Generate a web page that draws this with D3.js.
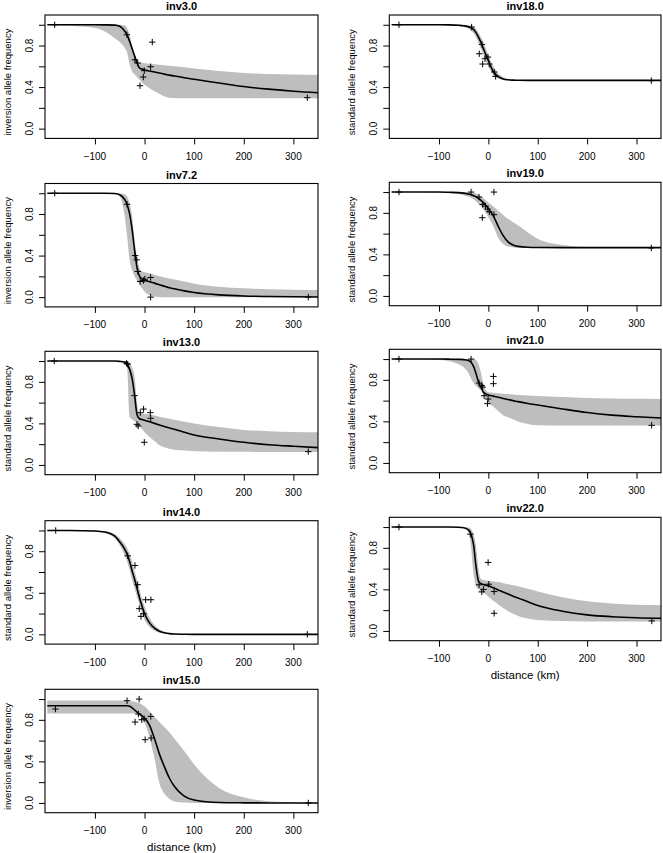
<!DOCTYPE html>
<html><head><meta charset="utf-8">
<script src="https://cdn.jsdelivr.net/npm/d3@7"></script>
<style>body{margin:0;background:#fff;} svg{display:block;font-family:"Liberation Sans",Arial,Helvetica,sans-serif;}</style>
</head><body><svg id="c" width="663" height="853"></svg>
<script>
// ---------- data ----------
const titles = ["inv3.0","inv7.2","inv13.0","inv14.0","inv15.0","inv18.0","inv19.0","inv21.0","inv22.0"];
const yLabels = ["inversion allele frequency","inversion allele frequency","standard allele frequency","standard allele frequency","inversion allele frequency","standard allele frequency","standard allele frequency","standard allele frequency","standard allele frequency"];
const xTicks = [-100, 0, 100, 200, 300];
const yTicks = [0, 0.2, 0.4, 0.6, 0.8, 1.0];
const yTickLabels = ["0.0", "", "0.4", "", "0.8", ""];
const xLabel = "distance (km)";

// common x positions at which the fitted cline and its band were read
const gridX = [-196,-150,-100,-80,-60,-50,-40,-35,-30,-25,-20,-15,-10,-5,0,10,20,30,40,50,60,80,100,150,200,250,300,350];

// inv3.0
const inv3_px = [-181,-35.5,15.6,-19.3,-13.9,12.3,-0.5,-2.5,-9.2,328];
const inv3_py = [1.0,0.904,0.833,0.663,0.631,0.596,0.558,0.497,0.413,0.298];
const inv3_line = [1,1,1,0.999,0.997,0.985,0.94,0.90,0.84,0.77,0.70,0.63,0.582,0.573,0.565,0.555,0.545,0.535,0.525,0.515,0.507,0.49,0.475,0.44,0.405,0.38,0.36,0.345];
const inv3_hi = [1,1,1,1,1,1,0.995,0.97,0.90,0.80,0.72,0.66,0.64,0.635,0.63,0.625,0.62,0.615,0.61,0.605,0.60,0.59,0.578,0.555,0.535,0.525,0.52,0.516];
const inv3_lo = [1,0.99,0.968,0.935,0.87,0.833,0.776,0.73,0.62,0.55,0.52,0.495,0.47,0.445,0.423,0.39,0.36,0.335,0.31,0.298,0.295,0.293,0.293,0.293,0.293,0.293,0.293,0.293];

// inv7.2
const inv7_px = [-181,-35.2,-19,-15.7,-13.7,-8.9,-2.2,0.5,12.3,12.3,330];
const inv7_py = [1.0,0.894,0.40,0.359,0.247,0.151,0.16,0.173,0.189,0.0,0.0];
const inv7_line = [1,1,1,1,0.998,0.985,0.94,0.89,0.80,0.65,0.45,0.28,0.20,0.175,0.165,0.148,0.135,0.12,0.105,0.09,0.08,0.06,0.045,0.022,0.011,0.006,0.003,0.002];
const inv7_hi = [1,1,1,1,1,0.998,0.99,0.97,0.90,0.78,0.55,0.38,0.28,0.25,0.24,0.23,0.215,0.20,0.19,0.18,0.17,0.15,0.13,0.10,0.085,0.075,0.07,0.068];
const inv7_lo = [1,1,1,0.998,0.99,0.97,0.78,0.58,0.35,0.26,0.20,0.16,0.12,0.085,0.055,0.02,0.006,0.002,0,0,0,0,0,0,0,0,0,0];

// inv13.0
const inv13_px = [-182,-36.4,-34,-20.1,-15.4,-12.7,-8.6,-1.9,11.7,12.4,-0.5,330];
const inv13_py = [1.0,0.978,0.97,0.667,0.391,0.375,0.503,0.538,0.503,0.449,0.218,0.128];
const inv13_line = [1,1,1,1,1,0.997,0.99,0.97,0.92,0.83,0.67,0.48,0.445,0.437,0.43,0.415,0.40,0.385,0.37,0.355,0.343,0.315,0.288,0.25,0.218,0.195,0.18,0.167];
const inv13_hi = [1,1,1,1,1,1,1,0.995,0.98,0.94,0.85,0.60,0.50,0.495,0.49,0.485,0.475,0.465,0.455,0.445,0.435,0.415,0.40,0.365,0.337,0.325,0.318,0.314];
const inv13_lo = [1,1,1,1,1,1,0.985,0.93,0.46,0.44,0.42,0.40,0.37,0.345,0.315,0.27,0.23,0.19,0.17,0.155,0.147,0.138,0.132,0.128,0.126,0.125,0.125,0.125];

// inv14.0
const inv14_px = [-179,-34,-19.3,-13.9,-10.6,-7.2,-2,2.2,12.9,328];
const inv14_py = [1.0,0.756,0.663,0.478,0.247,0.173,0.199,0.333,0.333,0.0];
const inv14_line = [1,1,0.995,0.985,0.945,0.89,0.82,0.77,0.70,0.61,0.53,0.44,0.35,0.27,0.20,0.11,0.06,0.03,0.015,0.007,0.003,0.001,0,0,0,0,0,0];
const inv14_hi = [1,1,0.997,0.99,0.965,0.925,0.87,0.83,0.77,0.70,0.61,0.52,0.43,0.34,0.27,0.16,0.09,0.05,0.025,0.012,0.006,0.002,0,0,0,0,0,0];
const inv14_lo = [1,0.999,0.99,0.975,0.925,0.86,0.76,0.70,0.62,0.52,0.44,0.36,0.28,0.20,0.14,0.07,0.035,0.015,0.007,0.003,0.001,0,0,0,0,0,0,0];

// inv15.0
const inv15_px = [-179.6,-35.2,-10.9,-12.3,-19,-5.6,-0.8,12.6,1.2,13.3,330];
const inv15_py = [0.904,0.984,1.0,0.856,0.779,0.801,0.81,0.833,0.609,0.625,0.0];
const inv15_line = [0.936,0.936,0.936,0.936,0.936,0.936,0.936,0.935,0.93,0.915,0.895,0.875,0.855,0.837,0.817,0.75,0.62,0.47,0.35,0.24,0.16,0.065,0.028,0.004,0.001,0,0,0];
const inv15_hi = [0.987,0.987,0.987,0.987,0.987,0.987,0.987,0.985,0.98,0.977,0.975,0.968,0.96,0.945,0.93,0.88,0.83,0.78,0.73,0.68,0.62,0.50,0.37,0.145,0.055,0.016,0.005,0.002];
const inv15_lo = [0.86,0.86,0.86,0.86,0.86,0.86,0.86,0.86,0.86,0.86,0.86,0.855,0.85,0.82,0.77,0.63,0.43,0.19,0.09,0.04,0.015,0.003,0,0,0,0,0,0];

// inv18.0
const inv18_px = [-181,-33.9,-13,-18.4,-6.9,-0.8,-11.6,1.9,12,14.7,330];
const inv18_py = [1.0,0.978,0.811,0.721,0.673,0.689,0.622,0.622,0.545,0.503,0.462];
const inv18_line = [1,1,1,0.999,0.995,0.99,0.98,0.97,0.955,0.925,0.88,0.83,0.77,0.71,0.655,0.55,0.50,0.478,0.47,0.467,0.466,0.465,0.465,0.465,0.465,0.465,0.465,0.465];
const inv18_hi = [1,1,1,1,1,0.998,0.995,0.99,0.98,0.96,0.925,0.88,0.83,0.77,0.71,0.60,0.53,0.495,0.478,0.47,0.467,0.466,0.466,0.466,0.466,0.466,0.466,0.466];
const inv18_lo = [1,1,0.999,0.997,0.99,0.98,0.96,0.94,0.92,0.88,0.83,0.77,0.71,0.65,0.60,0.515,0.482,0.47,0.466,0.464,0.464,0.464,0.464,0.464,0.464,0.464,0.464,0.464];

// inv19.0
const inv19_px = [-181,-35,11.3,-19,-11.6,-6,-12.3,-1,2,11.3,330];
const inv19_py = [1.0,1.0,1.0,0.952,0.881,0.865,0.753,0.835,0.81,0.782,0.462];
const inv19_line = [1,1,1,0.998,0.995,0.99,0.98,0.975,0.965,0.955,0.94,0.92,0.90,0.87,0.84,0.77,0.67,0.58,0.52,0.49,0.477,0.468,0.466,0.465,0.465,0.465,0.465,0.465];
const inv19_hi = [1,1,1,1,1,1,0.998,0.995,0.99,0.985,0.975,0.96,0.94,0.92,0.90,0.86,0.82,0.78,0.74,0.71,0.68,0.61,0.55,0.49,0.47,0.466,0.466,0.466];
const inv19_lo = [1,1,0.995,0.99,0.98,0.97,0.955,0.945,0.93,0.91,0.89,0.86,0.83,0.80,0.76,0.67,0.56,0.50,0.475,0.467,0.464,0.464,0.464,0.464,0.464,0.464,0.464,0.464];

// inv21.0
const inv21_px = [-181,-35,-18.8,-13.4,-11.5,-8.6,10.3,10.3,-0.5,-1.9,330.6];
const inv21_py = [1.0,1.0,0.769,0.744,0.73,0.647,0.833,0.763,0.615,0.571,0.362];
const inv21_line = [1,1,1,0.999,0.997,0.995,0.985,0.97,0.93,0.86,0.78,0.73,0.68,0.665,0.655,0.643,0.632,0.62,0.61,0.60,0.59,0.573,0.558,0.52,0.485,0.46,0.445,0.433];
const inv21_hi = [1,1,1,1,1,1,1,1,1,0.99,0.95,0.87,0.76,0.70,0.68,0.675,0.67,0.667,0.663,0.66,0.655,0.65,0.645,0.635,0.625,0.62,0.617,0.615];
const inv21_lo = [1,0.998,0.99,0.98,0.95,0.92,0.86,0.81,0.77,0.74,0.72,0.70,0.66,0.62,0.585,0.54,0.50,0.46,0.44,0.42,0.40,0.375,0.362,0.36,0.36,0.36,0.36,0.36];

// inv22.0
const inv22_px = [-181,-36.4,-0.5,-18.8,0.8,-10,-13.4,11.7,11.7,331];
const inv22_py = [1.0,0.932,0.659,0.444,0.45,0.40,0.376,0.379,0.17,0.096];
const inv22_line = [1,1,1,1,0.998,0.993,0.97,0.93,0.83,0.62,0.48,0.455,0.447,0.44,0.434,0.415,0.395,0.375,0.355,0.335,0.318,0.28,0.245,0.19,0.155,0.137,0.127,0.122];
const inv22_hi = [1,1,1,1,1,1,0.995,0.98,0.93,0.82,0.60,0.50,0.49,0.485,0.48,0.475,0.47,0.46,0.45,0.44,0.43,0.405,0.38,0.325,0.285,0.265,0.253,0.248];
const inv22_lo = [1,1,1,1,1,0.99,0.95,0.80,0.55,0.43,0.40,0.385,0.37,0.35,0.33,0.29,0.255,0.22,0.19,0.165,0.145,0.12,0.105,0.095,0.09,0.09,0.09,0.09];

// ---------- layout ----------
const colL = [45, 389.3], colR = [318, 661];
const rowTops = [[15, 183.5, 351.3, 520.7, 689.3], [15, 182.3, 349.3, 517.3]];
const boxH = 123.4;
const xDomain = [-200.6, 349.6];
const yDomain = [-0.094, 1.094];

const panels = [
  {t:0, col:0, row:0, px:inv3_px, py:inv3_py, line:inv3_line, hi:inv3_hi, lo:inv3_lo, xl:false},
  {t:1, col:0, row:1, px:inv7_px, py:inv7_py, line:inv7_line, hi:inv7_hi, lo:inv7_lo, xl:false},
  {t:2, col:0, row:2, px:inv13_px, py:inv13_py, line:inv13_line, hi:inv13_hi, lo:inv13_lo, xl:false},
  {t:3, col:0, row:3, px:inv14_px, py:inv14_py, line:inv14_line, hi:inv14_hi, lo:inv14_lo, xl:false},
  {t:4, col:0, row:4, px:inv15_px, py:inv15_py, line:inv15_line, hi:inv15_hi, lo:inv15_lo, xl:true},
  {t:5, col:1, row:0, px:inv18_px, py:inv18_py, line:inv18_line, hi:inv18_hi, lo:inv18_lo, xl:false},
  {t:6, col:1, row:1, px:inv19_px, py:inv19_py, line:inv19_line, hi:inv19_hi, lo:inv19_lo, xl:false},
  {t:7, col:1, row:2, px:inv21_px, py:inv21_py, line:inv21_line, hi:inv21_hi, lo:inv21_lo, xl:false},
  {t:8, col:1, row:3, px:inv22_px, py:inv22_py, line:inv22_line, hi:inv22_hi, lo:inv22_lo, xl:true}
];

const svg = d3.select("#c");
const defs = svg.append("defs");

panels.forEach((p, i) => {
  const L = colL[p.col], R = colR[p.col];
  const T = rowTops[p.col][p.row], B = T + boxH;
  const x = d3.scaleLinear().domain(xDomain).range([L, R]);
  const y = d3.scaleLinear().domain(yDomain).range([B, T]);
  const g = svg.append("g");

  defs.append("clipPath").attr("id", "clip" + i)
    .append("rect").attr("x", L).attr("y", T).attr("width", R - L).attr("height", B - T);

  const band = gridX.map((gx, k) => ({x: gx, lo: p.lo[k], hi: p.hi[k], v: p.line[k]}));
  const plot = g.append("g").attr("clip-path", `url(#clip${i})`);

  plot.append("path").datum(band)
    .attr("d", d3.area().x(d => x(d.x)).y0(d => y(d.lo)).y1(d => y(d.hi)).curve(d3.curveMonotoneX))
    .attr("fill", "#bebebe").attr("stroke", "none");

  plot.append("path").datum(band)
    .attr("d", d3.line().x(d => x(d.x)).y(d => y(d.v)).curve(d3.curveMonotoneX))
    .attr("fill", "none").attr("stroke", "#000").attr("stroke-width", 1.6);

  const pts = p.px.map((px, k) => [px, p.py[k]]);
  plot.append("g").selectAll("path").data(pts).join("path")
    .attr("d", d => { const cx = x(d[0]), cy = y(d[1]); return `M${cx-3.2},${cy}H${cx+3.2}M${cx},${cy-3.2}V${cy+3.2}`; })
    .attr("stroke", "#000").attr("stroke-width", 1).attr("fill", "none");

  // box
  g.append("rect").attr("x", L).attr("y", T).attr("width", R - L).attr("height", B - T)
    .attr("fill", "none").attr("stroke", "#000").attr("stroke-width", 1.1);

  // x axis
  const xa = g.append("g").attr("transform", `translate(0,${B})`)
    .call(d3.axisBottom(x).tickValues(xTicks).tickSize(6).tickFormat(""));
  xa.select(".domain").remove();
  xa.selectAll("line").attr("stroke", "#000");
  g.selectAll(null).data(xTicks).join("text")
    .attr("x", d => x(d)).attr("y", B + 21.5)
    .attr("text-anchor", "middle").attr("font-size", 10).attr("fill", "#000")
    .text(d => d3.format("d")(d));

  // y axis
  const ya = g.append("g").attr("transform", `translate(${L},0)`)
    .call(d3.axisLeft(y).tickValues(yTicks).tickSize(6).tickFormat(""));
  ya.select(".domain").remove();
  ya.selectAll("line").attr("stroke", "#000");
  g.selectAll(null).data(yTicks.map((v, k) => [v, yTickLabels[k]]).filter(d => d[1] !== "")).join("text")
    .attr("transform", d => `translate(${L - 12.5},${y(d[0])}) rotate(-90)`)
    .attr("text-anchor", "middle").attr("font-size", 10).attr("fill", "#000")
    .text(d => d[1]);

  // y label
  g.append("text")
    .attr("transform", `translate(${L - 34.5},${(T + B) / 2 + 5.5}) rotate(-90)`)
    .attr("text-anchor", "middle").attr("font-size", 9.5).attr("fill", "#000")
    .text(yLabels[p.t]);

  // title
  g.append("text").attr("x", (L + R) / 2).attr("y", T - 5)
    .attr("text-anchor", "middle").attr("font-size", 11).attr("font-weight", "bold").attr("fill", "#000")
    .text(titles[p.t]);

  if (p.xl) {
    g.append("text").attr("x", (L + R) / 2).attr("y", B + 38)
      .attr("text-anchor", "middle").attr("font-size", 11.5).attr("fill", "#000")
      .text(xLabel);
  }
});
</script></body></html>
